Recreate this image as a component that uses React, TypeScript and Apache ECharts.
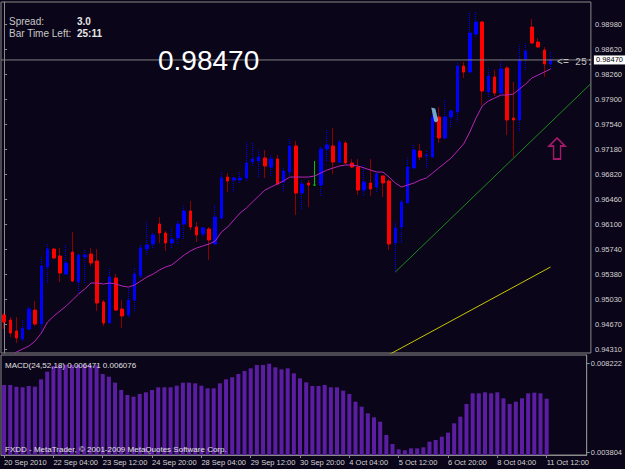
import React, { useEffect, useRef } from 'react';
import * as echarts from 'echarts';

const xTickLabels = ['20 Sep 2010', '22 Sep 04:00', '23 Sep 12:00', '24 Sep 20:00', '28 Sep 04:00', '29 Sep 12:00', '30 Sep 20:00', '4 Oct 04:00', '5 Oct 12:00', '6 Oct 20:00', '8 Oct 04:00', '11 Oct 12:00'];
const priceTicks = [0.98980, 0.98620, 0.98260, 0.97900, 0.97540, 0.97180, 0.96820, 0.96460, 0.96100, 0.95740, 0.95380, 0.95030, 0.94670, 0.94310];
const macdTicks = [0.008222, 0.003804];
const lastPrice = 0.98470;

const opens = [0.94799, 0.94727, 0.94569, 0.94454, 0.94598, 0.94871, 0.94670, 0.95490, 0.95749, 0.95649,
  0.95389, 0.95706, 0.95274, 0.95634, 0.95677, 0.95577, 0.94987, 0.94684, 0.95332, 0.94886,
  0.94799, 0.95015, 0.95361, 0.95749, 0.95821, 0.96109, 0.95980, 0.95836, 0.95908, 0.96109,
  0.96296, 0.96066, 0.95965, 0.96037, 0.95821, 0.96195, 0.96785, 0.96742, 0.96742, 0.96771,
  0.97001, 0.97016, 0.97059, 0.96929, 0.97045, 0.96713, 0.96857, 0.97232, 0.96555, 0.96699,
  0.96670, 0.96670, 0.97188, 0.97232, 0.97001, 0.97275, 0.96987, 0.96929, 0.96598, 0.96699,
  0.96642, 0.96800, 0.96728, 0.95836, 0.96066, 0.96411, 0.96915, 0.97160, 0.97088, 0.97073,
  0.97649, 0.97347, 0.97649, 0.97721, 0.98383, 0.98296, 0.98843, 0.99016, 0.98009, 0.98225,
  0.97994, 0.98354, 0.97635, 0.97606, 0.98484, 0.98944, 0.98728, 0.98613, 0.98412];
const closes = [0.94699, 0.94540, 0.94469, 0.94612, 0.94886, 0.94670, 0.95505, 0.95749, 0.95620, 0.95404,
  0.95548, 0.95289, 0.95663, 0.95663, 0.95548, 0.94972, 0.94684, 0.95346, 0.94871, 0.94785,
  0.95015, 0.95389, 0.95764, 0.95807, 0.95951, 0.95980, 0.95836, 0.95893, 0.96109, 0.96296,
  0.96066, 0.95951, 0.96052, 0.95879, 0.96210, 0.96771, 0.96728, 0.96771, 0.96771, 0.96987,
  0.97045, 0.97073, 0.96944, 0.97045, 0.96685, 0.96872, 0.97232, 0.96555, 0.96685, 0.96670,
  0.96670, 0.97188, 0.97246, 0.97001, 0.97289, 0.96987, 0.96929, 0.96598, 0.96713, 0.96613,
  0.96829, 0.96699, 0.95821, 0.96052, 0.96426, 0.96929, 0.97174, 0.97073, 0.97102, 0.97649,
  0.97347, 0.97649, 0.97735, 0.98383, 0.98296, 0.98858, 0.99016, 0.98023, 0.98239, 0.97994,
  0.98340, 0.97606, 0.97606, 0.98469, 0.98599, 0.98714, 0.98656, 0.98412, 0.98470];
const highs = [0.94828, 0.94771, 0.94771, 0.94727, 0.94915, 0.95001, 0.95634, 0.95821, 0.95764, 0.95764,
  0.95807, 0.95994, 0.95677, 0.95735, 0.95764, 0.95749, 0.95015, 0.95476, 0.95389, 0.95015,
  0.95188, 0.95476, 0.95807, 0.96138, 0.95980, 0.96210, 0.96008, 0.96037, 0.96152, 0.96368,
  0.96440, 0.96138, 0.96066, 0.96066, 0.96382, 0.96857, 0.96843, 0.96785, 0.96857, 0.97289,
  0.97275, 0.97174, 0.97174, 0.97102, 0.97102, 0.96915, 0.97332, 0.97304, 0.96742, 0.96742,
  0.97016, 0.97217, 0.97462, 0.97491, 0.97318, 0.97304, 0.97045, 0.97045, 0.96958, 0.97045,
  0.96843, 0.96814, 0.96757, 0.96138, 0.96454, 0.97059, 0.97246, 0.97260, 0.97160, 0.97706,
  0.97793, 0.97894, 0.97750, 0.98426, 0.98440, 0.99146, 0.99160, 0.99030, 0.98354, 0.98325,
  0.98469, 0.98383, 0.98153, 0.98671, 0.98714, 0.99059, 0.98786, 0.98656, 0.98584];
const lows = [0.94598, 0.94483, 0.94397, 0.94425, 0.94584, 0.94641, 0.94540, 0.95260, 0.95605, 0.95274,
  0.95375, 0.95274, 0.95116, 0.95260, 0.95505, 0.94857, 0.94641, 0.94670, 0.94857, 0.94612,
  0.94771, 0.94843, 0.95332, 0.95663, 0.95749, 0.95836, 0.95721, 0.95749, 0.95807, 0.95879,
  0.96023, 0.95850, 0.95936, 0.95591, 0.95807, 0.96167, 0.96570, 0.96570, 0.96699, 0.96728,
  0.96929, 0.96785, 0.96771, 0.96785, 0.96670, 0.96570, 0.96785, 0.96239, 0.96325, 0.96354,
  0.96656, 0.96498, 0.97016, 0.96829, 0.96987, 0.96972, 0.96915, 0.96526, 0.96498, 0.96512,
  0.96570, 0.96498, 0.95735, 0.95418, 0.95836, 0.96397, 0.96901, 0.97030, 0.96915, 0.97059,
  0.97275, 0.97332, 0.97505, 0.97577, 0.98210, 0.98282, 0.98786, 0.97822, 0.97937, 0.97951,
  0.97980, 0.97390, 0.97073, 0.97447, 0.98325, 0.98699, 0.98642, 0.98225, 0.98340];
const maValues = [0.94123, 0.94195, 0.94267, 0.94310, 0.94353, 0.94425, 0.94540, 0.94699, 0.94785, 0.94857,
  0.94929, 0.95015, 0.95102, 0.95174, 0.95260, 0.95260, 0.95246, 0.95260, 0.95246, 0.95217,
  0.95202, 0.95231, 0.95289, 0.95346, 0.95389, 0.95447, 0.95490, 0.95519, 0.95591, 0.95663,
  0.95721, 0.95764, 0.95793, 0.95821, 0.95864, 0.95994, 0.96066, 0.96167, 0.96267, 0.96339,
  0.96426, 0.96512, 0.96598, 0.96642, 0.96685, 0.96728, 0.96785, 0.96785, 0.96785, 0.96785,
  0.96800, 0.96843, 0.96886, 0.96915, 0.96944, 0.96958, 0.96958, 0.96944, 0.96915, 0.96886,
  0.96857, 0.96857, 0.96785, 0.96699, 0.96642, 0.96670, 0.96699, 0.96742, 0.96771, 0.96843,
  0.96915, 0.96987, 0.97059, 0.97160, 0.97260, 0.97433, 0.97635, 0.97807, 0.97879, 0.97922,
  0.97965, 0.97965, 0.97980, 0.98052, 0.98124, 0.98210, 0.98253, 0.98296, 0.98340];
const macdValues = [0.007156, 0.007156, 0.007073, 0.007040, 0.007106, 0.007073, 0.007440, 0.007823, 0.008107, 0.008157,
  0.008165, 0.008160, 0.008155, 0.008160, 0.008150, 0.008145, 0.007707, 0.007573, 0.007273, 0.006906,
  0.006656, 0.006572, 0.006706, 0.006790, 0.006906, 0.007040, 0.007040, 0.007040, 0.007123, 0.007273,
  0.007273, 0.007240, 0.007123, 0.006990, 0.006990, 0.007240, 0.007440, 0.007540, 0.007707, 0.007857,
  0.007990, 0.008157, 0.008160, 0.008222, 0.008040, 0.007940, 0.007990, 0.007740, 0.007490, 0.007290,
  0.007106, 0.007106, 0.007156, 0.007040, 0.007040, 0.006873, 0.006706, 0.006322, 0.006072, 0.005739,
  0.005539, 0.005322, 0.004655, 0.004205, 0.003938, 0.003888, 0.003988, 0.003988, 0.004038, 0.004321,
  0.004405, 0.004571, 0.004771, 0.005239, 0.005572, 0.006206, 0.006740, 0.006740, 0.006790, 0.006740,
  0.006790, 0.006489, 0.006206, 0.006322, 0.006489, 0.006740, 0.006773, 0.006740, 0.006471];
const greenTrend = [[63, 0.95418], [94.5, 0.98130]];
const yellowTrend = [[60, 0.94133], [88, 0.95490]];
const pinkArrow = [[89.05, 0.97196]];
const blueMark = [[69.35, 0.97678]];
const dojiIndex = 50;

const SLOTS = 95;
const BG = '#0a0519';
const TXT = '#d4d4d4';
const FONT = '"Liberation Sans", Arial, sans-serif';

export default function App() {
  const ref = useRef<HTMLDivElement>(null);
  useEffect(() => {
    const chart = echarts.init(ref.current!, null, { renderer: 'svg' });
    const cats = Array.from({ length: SLOTS }, (_, i) => String(i));
    const n = opens.length;
    const bullWick: any[] = [];
    const bearWick: any[] = [];
    const bodies: any[] = [];
    for (let i = 0; i < n; i++) {
      const o = opens[i], c = closes[i], l = lows[i], h = highs[i];
      const full = [o, c, l, h];
      const body = [o, c, Math.min(o, c), Math.max(o, c)];
      if (i === dojiIndex) {
        const g = '#00c000';
        const st = { color: g, color0: g, borderColor: g, borderColor0: g, borderColorDoji: g, borderType: 'solid' };
        bullWick.push({ value: full, itemStyle: st });
        bearWick.push('-');
        bodies.push({ value: body, itemStyle: st });
      } else if (c >= o) {
        bullWick.push(full);
        bearWick.push('-');
        bodies.push(body);
      } else {
        bullWick.push('-');
        bearWick.push(full);
        bodies.push(body);
      }
    }
    const tickShow = (idx: number) => idx % 8 === 0 && idx <= 88;
    const textZ = 100;
    const option: any = {
      animation: false,
      backgroundColor: BG,
      grid: [
        { left: 1, top: 2, width: 592, height: 351, show: true, borderColor: '#8a8a8a', borderWidth: 1 },
        { left: 1, top: 355, width: 592, height: 100, show: true, borderColor: '#8a8a8a', borderWidth: 1 },
      ],
      xAxis: [
        { type: 'category', gridIndex: 0, data: cats, boundaryGap: true, axisLine: { show: false }, axisTick: { show: false }, axisLabel: { show: false }, splitLine: { show: false } },
        {
          type: 'category', gridIndex: 1, data: cats, boundaryGap: true,
          axisLine: { show: true, lineStyle: { color: '#8a8a8a' } },
          axisTick: { show: true, alignWithLabel: true, interval: tickShow, length: 3, lineStyle: { color: '#8a8a8a' } },
          axisLabel: {
            interval: tickShow, align: 'left', margin: 3, color: TXT, fontSize: 7.5, fontFamily: FONT,
            formatter: (_v: string, idx: number) => xTickLabels[idx / 8] ?? '',
          },
          splitLine: { show: false },
        },
        { type: 'value', gridIndex: 0, min: -0.5, max: SLOTS - 0.5, show: false },
      ],
      yAxis: [
        {
          type: 'value', gridIndex: 0, position: 'right', min: 0.94253, max: 0.99304,
          axisLine: { show: true, lineStyle: { color: '#8a8a8a' } },
          axisTick: { show: true, length: 3, customValues: priceTicks, lineStyle: { color: '#8a8a8a' } },
          axisLabel: { customValues: priceTicks, formatter: (v: number) => v.toFixed(5), color: TXT, fontSize: 7.5, fontFamily: FONT, margin: 4 },
          splitLine: { show: false },
        },
        {
          type: 'value', gridIndex: 1, position: 'right', min: 0.003654, max: 0.008657,
          axisLine: { show: true, lineStyle: { color: '#8a8a8a' } },
          axisTick: { show: true, length: 3, customValues: macdTicks, lineStyle: { color: '#8a8a8a' } },
          axisLabel: { customValues: macdTicks, formatter: (v: number) => v.toFixed(6), color: TXT, fontSize: 7.5, fontFamily: FONT, margin: 4 },
          splitLine: { show: false },
        },
      ],
      series: [
        {
          type: 'line', name: 'lastPrice', xAxisIndex: 2, yAxisIndex: 0,
          data: [[-0.5, lastPrice], [SLOTS - 0.5, lastPrice]], symbol: 'none',
          lineStyle: { color: '#808080', width: 1 }, itemStyle: { color: '#808080' },
          endLabel: {
            show: true, distance: 3, formatter: () => lastPrice.toFixed(5),
            backgroundColor: '#ffffff', color: '#000000', fontSize: 7.5, fontFamily: FONT, padding: [1, 2, 0, 2],
          },
        },
        {
          type: 'candlestick', name: 'bullWick', xAxisIndex: 0, yAxisIndex: 0, data: bullWick, barWidth: 0.01,
          itemStyle: { color: '#0000ff', color0: '#0000ff', borderColor: '#0000ff', borderColor0: '#0000ff', borderColorDoji: '#0000ff', borderWidth: 1, borderType: [1, 1] },
        },
        {
          type: 'candlestick', name: 'bearWick', xAxisIndex: 0, yAxisIndex: 0, data: bearWick, barWidth: 0.01,
          itemStyle: { color: '#8c0000', color0: '#8c0000', borderColor: '#8c0000', borderColor0: '#8c0000', borderColorDoji: '#8c0000', borderWidth: 1 },
        },
        {
          type: 'candlestick', name: 'body', xAxisIndex: 0, yAxisIndex: 0, data: bodies, barWidth: 3,
          itemStyle: { color: '#0000ff', color0: '#ff0000', borderColor: '#0000ff', borderColor0: '#ff0000', borderColorDoji: '#0000ff', borderWidth: 1 },
        },
        {
          type: 'line', name: 'MA', xAxisIndex: 0, yAxisIndex: 0, data: maValues, symbol: 'none',
          lineStyle: { color: '#b526b5', width: 1 }, itemStyle: { color: '#b526b5' },
        },
        {
          type: 'line', name: 'trendGreen', xAxisIndex: 2, yAxisIndex: 0, data: greenTrend, symbol: 'none',
          lineStyle: { color: '#1e8a1e', width: 1 }, itemStyle: { color: '#1e8a1e' },
        },
        {
          type: 'line', name: 'trendYellow', xAxisIndex: 2, yAxisIndex: 0, data: yellowTrend, symbol: 'none',
          lineStyle: { color: '#c8c800', width: 1 }, itemStyle: { color: '#c8c800' },
        },
        {
          type: 'scatter', name: 'arrowUp', xAxisIndex: 2, yAxisIndex: 0, data: pinkArrow,
          symbol: 'path://M8,0 L16,8 L11.5,8 L11.5,21 L4.5,21 L4.5,8 L0,8 Z', symbolSize: [16, 21],
          itemStyle: { color: 'rgba(0,0,0,0)', borderColor: '#c81e7c', borderWidth: 1.6 },
        },
        {
          type: 'scatter', name: 'mark', xAxisIndex: 2, yAxisIndex: 0, data: blueMark,
          symbol: 'path://M0,0 L4,1 L7,12 L5,14 L3,13 Z', symbolSize: [7, 15],
          itemStyle: { color: '#8ccff0' },
        },
        {
          type: 'bar', name: 'MACD', xAxisIndex: 1, yAxisIndex: 1, data: macdValues, barWidth: 4,
          itemStyle: { color: '#5b1ea2' },
        },
      ],
      graphic: [
        { type: 'text', z: textZ, x: 9, y: 21, style: { text: 'Spread:', fill: '#c8c8c8', font: `10px ${FONT}`, verticalAlign: 'middle' } },
        { type: 'text', z: textZ, x: 77, y: 21, style: { text: '3.0', fill: '#e6e6e6', font: `bold 10px ${FONT}`, verticalAlign: 'middle' } },
        { type: 'text', z: textZ, x: 9, y: 33, style: { text: 'Bar Time Left:', fill: '#c8c8c8', font: `10px ${FONT}`, verticalAlign: 'middle' } },
        { type: 'text', z: textZ, x: 77, y: 33, style: { text: '25:11', fill: '#e6e6e6', font: `bold 10px ${FONT}`, verticalAlign: 'middle' } },
        { type: 'text', z: textZ, x: 158, y: 60, style: { text: '0.98470', fill: '#ffffff', font: `28px ${FONT}`, verticalAlign: 'middle' } },
        { type: 'text', z: textZ, x: 557, y: 62, style: { text: '<= 25:', fill: '#c0c0c0', font: '10px "Liberation Mono", monospace', verticalAlign: 'middle' } },
        { type: 'text', z: textZ, x: 5, y: 365, style: { text: 'MACD(24,52,18) 0.006471 0.006076', fill: '#e0e0e0', font: `8px ${FONT}`, verticalAlign: 'middle' } },
        { type: 'text', z: textZ, x: 5, y: 449, style: { text: 'FXDD - MetaTrader, \u00a9 2001-2009 MetaQuotes Software Corp.', fill: '#e0e0e0', font: `8px ${FONT}`, verticalAlign: 'middle' } },
      ],
    };
    chart.setOption(option);
    return () => chart.dispose();
  }, []);
  return <div ref={ref} style={{ position: 'fixed', left: 0, top: 0, width: 625, height: 469, background: BG }} />;
}
